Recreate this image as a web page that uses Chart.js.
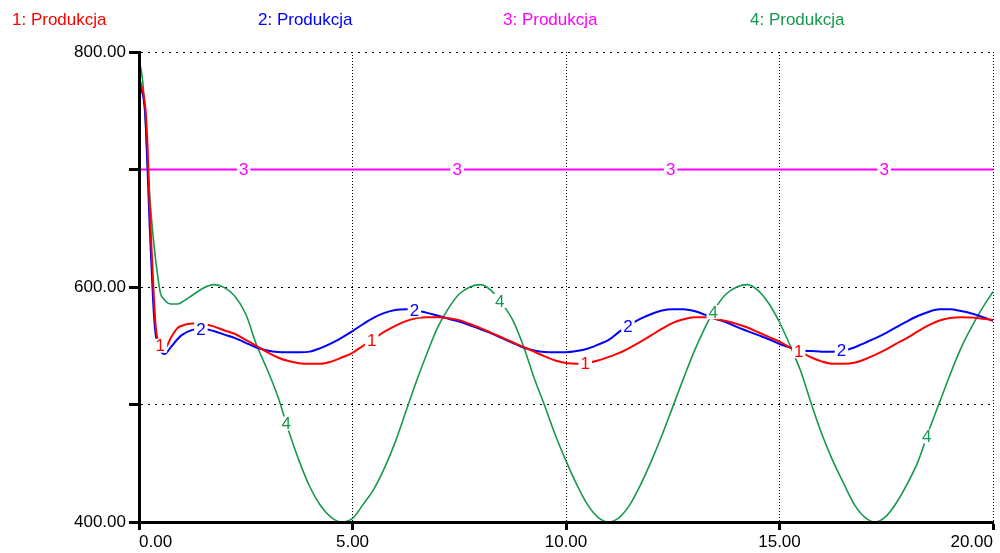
<!DOCTYPE html>
<html>
<head>
<meta charset="utf-8">
<script src="https://cdn.jsdelivr.net/npm/chart.js@4.4.1/dist/chart.umd.min.js"></script>
<style>
  html, body { margin: 0; padding: 0; background: #fff; }
  canvas { display: block; }
</style>
</head>
<body>
<canvas id="c" width="1000" height="553"></canvas>
<script>
// Simulation output: four "Produkcja" runs over time 0..20
const seriesNames = ['1: Produkcja', '2: Produkcja', '3: Produkcja', '4: Produkcja'];
const seriesColors = ['#ff0000', '#0000ff', '#ff00ff', '#16984e'];

const time = [0, 0.05, 0.1, 0.15, 0.2, 0.25, 0.3, 0.35, 0.4, 0.5, 0.6, 0.75, 0.9,
  1, 1.25, 1.5, 1.75, 2, 2.25, 2.5, 2.75, 3, 3.25, 3.5, 3.75, 4, 4.25, 4.5, 4.75,
  5, 5.25, 5.5, 5.75, 6, 6.25, 6.5, 6.75, 7, 7.25, 7.5, 7.75, 8, 8.25, 8.5, 8.75,
  9, 9.25, 9.5, 9.75, 10, 10.25, 10.5, 10.75, 11, 11.25, 11.5, 11.75, 12, 12.25, 12.5, 12.75,
  13, 13.25, 13.5, 13.75, 14, 14.25, 14.5, 14.75, 15, 15.25, 15.5, 15.75, 16, 16.25, 16.5, 16.75,
  17, 17.25, 17.5, 17.75, 18, 18.25, 18.5, 18.75, 19, 19.25, 19.5, 19.75, 20];

const produkcja1 = [778, 772, 765, 752, 720, 668, 628, 590, 563, 550, 547.5, 557, 565,
  567, 569, 568.5, 566.5, 563, 560, 555, 550, 544.5, 540, 537, 535.2, 534.7, 534.7, 536.5, 540,
  544, 550, 556, 562, 567, 571, 573.5, 574.3, 574.3, 573.5, 571.8, 568.5, 565, 561, 557, 553,
  549, 545, 541, 537.5, 535.3, 534.7, 535.5, 537.5, 540.5, 544, 548.5, 553.5, 559, 564.5, 569.5, 572.5,
  574.2, 574.2, 572.8, 571, 568.5, 565.5, 561.5, 557.5, 553.5, 548.5, 544.5, 540, 536.5, 534.7, 534.7, 535.5,
  538.5, 542.5, 547, 552, 557, 562.5, 567.5, 571.5, 573.7, 574.3, 574, 573, 572];

const produkcja2 = [776, 768, 762, 745, 700, 652, 612, 576, 557, 546, 543, 549, 555.5,
  559, 563.5, 564.5, 562.5, 559.5, 556.5, 552.5, 548.5, 546, 544.7, 544.5, 544.5, 545, 548, 552, 557,
  562.5, 568.5, 574, 578, 580.5, 581, 580, 578, 575.5, 573, 570.5, 567.5, 564, 560.5, 556.5, 552.5,
  548.5, 546, 544.7, 544.5, 544.5, 545.5, 547.5, 551, 555, 562, 568, 573, 577, 580, 581, 581,
  579.5, 576.5, 573, 570, 566, 562.5, 559, 555.5, 551.5, 548.5, 546, 545.5, 545, 545, 546, 548.5,
  552.5, 556.5, 561, 566, 571, 575.5, 579, 581, 581, 579.5, 577.5, 574.5, 571];

// Run 3 stays level for the whole horizon
const time3 = [0, 20];
const produkcja3 = [700, 700];

const produkcja4 = [790, 785, 770, 740, 705, 678, 655, 636, 620, 595, 589, 585.5, 585.5,
  587, 593, 599, 602, 599.5, 592, 577, 551, 530, 507, 478, 452, 430, 414, 404, 400,
  403, 415, 428, 446, 468, 494, 520, 544, 566, 582, 594, 600, 602, 597, 586, 572,
  550, 523, 499, 474, 452, 432, 415, 404, 400, 404, 415, 432, 452, 474, 498, 522,
  545, 565, 582, 594, 600, 602, 597, 586, 570, 550, 528, 500, 474, 452, 433, 415,
  404, 400, 405, 417, 433, 452, 478, 502, 526, 548, 566, 582, 596];

// Times at which each run's number is written on its curve
const markTimes = [
  [0.5, 5.45, 10.45, 15.45],
  [1.45, 6.45, 11.45, 16.45],
  [2.45, 7.45, 12.45, 17.45],
  [3.45, 8.45, 13.45, 18.45]
];

// Axis ticks
const xTicks = [0, 5, 10, 15, 20];
const yTicks = [400, 500, 600, 700, 800];
const yLabelled = [400, 600, 800];

const seriesTimes = [time, time, time3, time];
const seriesValues = [produkcja1, produkcja2, produkcja3, produkcja4];

function valueAt(ts, vs, t) {
  for (let i = 1; i < ts.length; i++) {
    if (t <= ts[i]) {
      const f = (t - ts[i - 1]) / (ts[i] - ts[i - 1]);
      return vs[i - 1] + f * (vs[i] - vs[i - 1]);
    }
  }
  return vs[vs.length - 1];
}

const FONT_FAMILY = '"Liberation Sans", Arial, sans-serif';
const FONT = '17px ' + FONT_FAMILY;

const curveNumbers = {
  id: 'curveNumbers',
  afterDatasetsDraw(chart) {
    const { ctx, scales: { x, y } } = chart;
    ctx.save();
    ctx.font = FONT;
    ctx.textAlign = 'center';
    ctx.textBaseline = 'middle';
    seriesValues.forEach((vals, s) => {
      markTimes[s].forEach(t => {
        const v = valueAt(seriesTimes[s], vals, t);
        const px = x.getPixelForValue(t);
        const py = y.getPixelForValue(v);
        const txt = String(s + 1);
        const w = ctx.measureText(txt).width + 4;
        ctx.fillStyle = '#ffffff';
        ctx.fillRect(px - w / 2, py - 7, w, 14);
        ctx.fillStyle = seriesColors[s];
        ctx.fillText(txt, px, py + 1);
      });
    });
    ctx.restore();
  },
  afterDraw(chart) {
    const ctx = chart.ctx;
    const legendX = [12, 258, 503, 750];
    ctx.save();
    ctx.font = FONT;
    ctx.textAlign = 'left';
    ctx.textBaseline = 'middle';
    seriesNames.forEach((name, i) => {
      ctx.fillStyle = seriesColors[i];
      ctx.fillText(name, legendX[i], 20);
    });
    ctx.restore();
  }
};

const datasets = seriesValues.map((vals, s) => ({
  label: seriesNames[s],
  data: seriesTimes[s].map((t, i) => ({ x: t, y: vals[i] })),
  borderColor: seriesColors[s],
  borderWidth: s === 3 ? 1.6 : 2,
  pointRadius: 0,
  cubicInterpolationMode: 'monotone',
  fill: false
}));

new Chart(document.getElementById('c'), {
  type: 'line',
  data: { datasets },
  options: {
    responsive: false,
    animation: false,
    events: [],
    layout: { padding: { left: 0, right: 7, top: 52, bottom: 0 } },
    plugins: { legend: { display: false }, tooltip: { enabled: false } },
    scales: {
      x: {
        type: 'linear',
        min: 0,
        max: 20,
        afterBuildTicks: scale => { scale.ticks = xTicks.map(v => ({ value: v })); },
        afterFit: scale => { scale.height = 31; scale.paddingLeft = 0; scale.paddingRight = 0; },
        ticks: {
          align: 'inner',
          color: '#000',
          padding: 2,
          font: { family: FONT_FAMILY, size: 17 },
          callback: v => Number(v).toFixed(2)
        },
        grid: {
          color: '#000',
          lineWidth: 1,
          tickLength: 8,
          tickWidth: 3,
          tickColor: '#000',
          tickBorderDash: []
        },
        border: { display: true, color: '#000', width: 3, dash: [1, 2], z: 1 }
      },
      y: {
        type: 'linear',
        min: 400,
        max: 800,
        afterBuildTicks: scale => { scale.ticks = yTicks.map(v => ({ value: v })); },
        afterFit: scale => { scale.width = 139; scale.paddingTop = 0; scale.paddingBottom = 0; },
        ticks: {
          color: '#000',
          padding: 3,
          font: { family: FONT_FAMILY, size: 17 },
          callback: v => yLabelled.includes(v) ? Number(v).toFixed(2) : ''
        },
        grid: {
          color: '#000',
          lineWidth: 1,
          tickLength: 10,
          tickWidth: 3,
          tickColor: '#000',
          tickBorderDash: []
        },
        border: { display: true, color: '#000', width: 3, dash: [2, 5], z: 1 }
      }
    }
  },
  plugins: [curveNumbers]
});
</script>
</body>
</html>
